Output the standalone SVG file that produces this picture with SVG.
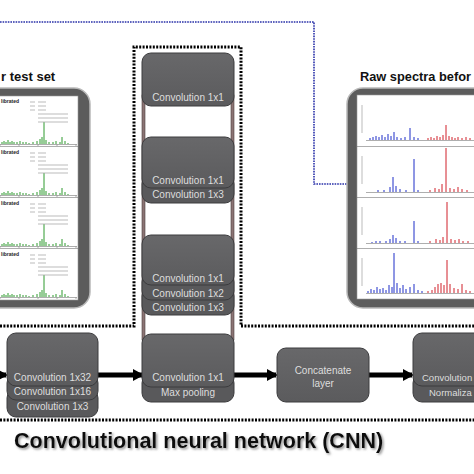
<svg xmlns="http://www.w3.org/2000/svg" width="474" height="474" viewBox="0 0 474 474">
<defs>
<style>
.box{fill:url(#gb);stroke:#3c3c3e;stroke-width:1}
.layer{fill:#59595b;stroke:#3c3c3e;stroke-width:1}
.lbl{fill:#dedede;font-family:"Liberation Sans",Arial,sans-serif;font-size:10px;text-anchor:middle}
.title{fill:#111;font-family:"Liberation Sans",Arial,sans-serif;font-weight:bold}
.frame{fill:#5c5c5c;stroke:#b8b8b8;stroke-width:1.5}
.plot{fill:#fff;stroke:#9a9a9a;stroke-width:0.6}
.axis{stroke:#777;stroke-width:0.6;fill:none}
.leg{stroke:#aaa;stroke-width:0.8}
.grn{stroke:#2e9a2e;stroke-width:1;fill:none}
.blu{stroke:#1f2fc8;stroke-width:1;fill:none}
.red{stroke:#d0202a;stroke-width:1;fill:none}
.tiny{font-family:"Liberation Sans",Arial,sans-serif;font-size:5px;font-weight:bold;fill:#222}
.rail{fill:#8b7474;stroke:#4b3c3c;stroke-width:0.6}
.dots{fill:none;stroke:#000;stroke-width:3;stroke-dasharray:2 1.4}
.blue-dots{fill:none;stroke:#2830a8;stroke-width:1.6;stroke-dasharray:1.6 1}
.arrow{stroke:#000;stroke-width:5;fill:none;marker-end:url(#ah)}
</style>
<linearGradient id="gb" x1="0" y1="0" x2="0" y2="1">
<stop offset="0" stop-color="#68686a"/>
<stop offset="1" stop-color="#5b5b5d"/>
</linearGradient>
<marker id="ah" markerWidth="12" markerHeight="14" refX="9" refY="7" orient="auto" markerUnits="userSpaceOnUse">
<path d="M0,1 L11,7 L0,13 z" fill="#000"/>
</marker>
<filter id="sh" x="-5%" y="-20%" width="110%" height="150%">
<feDropShadow dx="1.5" dy="1.5" stdDeviation="0.8" flood-color="#777" flood-opacity="0.8"/>
</filter>
<g id="gpeaks">
<path class="grn" d="M2,47v-2M4,47v-3M6,47v-2M8,47v-4M10,47v-2M12,47v-3M14,47v-2M17,47v-2M20,47v-3M23,47v-2M26,47v-2M29,47v-1M33,47v-2M37,47v-3M40,47v-5M42,47v-7M44,47v-22M46,47v-4M49,47v-2M53,47v-2M56,47v-3M60,47v-2M62,47v-7M65,47v-3M68,47v-1"/>
<path class="axis" d="M0,47.5H77M0,47.5v1.5M19,47.5v1.5M38,47.5v1.5M57,47.5v1.5M76,47.5v1.5"/>
<path class="leg" d="M30,5h5M30,9h5M30,13h5M38,5h8M38,9h8M38,13h8M38,17h30M38,21h30M38,25h30"/>
</g>
</defs>

<g id="blue-link">
<path class="blue-dots" d="M0,22H314V184H349"/>
</g>

<g id="left-panel">
<rect class="frame" x="-20" y="88" width="110" height="220" rx="16"/>
<rect class="plot" x="-5" y="96" width="83" height="204"/>
<g transform="translate(0,97)"><text class="tiny" x="1" y="6">librated</text><use href="#gpeaks"/></g>
<path class="axis" d="M0,146.5H78"/>
<g transform="translate(0,148)"><text class="tiny" x="1" y="6">librated</text><use href="#gpeaks"/></g>
<path class="axis" d="M0,197.5H78"/>
<g transform="translate(0,199)"><text class="tiny" x="1" y="6">librated</text><use href="#gpeaks"/></g>
<path class="axis" d="M0,248.5H78"/>
<g transform="translate(0,250)"><text class="tiny" x="1" y="6">librated</text><use href="#gpeaks"/></g>
<text class="title" x="1" y="81" font-size="13">r test set</text>
</g>

<g id="right-panel">
<rect class="frame" x="347" y="88" width="150" height="220" rx="16"/>
<rect class="plot" x="357" y="95" width="130" height="204"/>
<path class="axis" d="M357,146.5H474M357,197.5H474M357,248.5H474"/>
<path class="axis" d="M366,140.5H474M366,192.5H474M366,243.5H474M366,293.5H474"/>
<path class="leg" d="M362,105v28M362,156v28M362,207v28M362,258v28"/>
<path class="blu" d="M370,140v-2M373,140v-3M376,140v-4M379,140v-3M382,140v-5M385,140v-3M388,140v-6M391,140v-4M394,140v-8M397,140v-3M401,140v-2M405,140v-3M410,140v-12M414,140v-3M418,140v-2"/>
<path class="red" d="M428,140v-2M431,140v-3M434,140v-2M437,140v-4M440,140v-3M443,140v-5M446,140v-15M449,140v-4M452,140v-3M455,140v-2M458,140v-3M462,140v-2M466,140v-3M470,140v-2"/>
<path class="blu" d="M378,192v-2M384,192v-2M390,192v-5M393,192v-15M396,192v-6M400,192v-3M406,192v-2M414,192v-33M418,192v-2"/>
<path class="red" d="M430,192v-2M435,192v-4M439,192v-3M442,192v-8M446,192v-44M450,192v-4M454,192v-3M458,192v-5M462,192v-3M467,192v-2"/>
<path class="blu" d="M372,243v-1M376,243v-2M380,243v-2M386,243v-2M390,243v-4M393,243v-8M396,243v-5M400,243v-2M405,243v-2M414,243v-22M418,243v-2"/>
<path class="red" d="M430,243v-2M436,243v-4M440,243v-3M443,243v-6M447,243v-41M451,243v-4M455,243v-3M459,243v-4M463,243v-2M468,243v-2"/>
<path class="blu" d="M368,293v-2M371,293v-4M374,293v-3M377,293v-6M380,293v-4M383,293v-5M386,293v-3M389,293v-8M392,293v-6M394,293v-40M397,293v-10M400,293v-5M403,293v-8M406,293v-4M410,293v-6M414,293v-9M418,293v-3M422,293v-2"/>
<path class="red" d="M428,293v-2M432,293v-3M435,293v-6M438,293v-9M441,293v-10M444,293v-8M447,293v-33M450,293v-9M454,293v-5M458,293v-4M462,293v-9M466,293v-3M470,293v-2"/>
<text class="title" x="360" y="81" font-size="12.8">Raw spectra befor</text>
</g>

<g id="frames">
<path class="dots" d="M0,326H134V47H241V326H474"/>
<path class="dots" d="M0,420H474"/>
</g>

<g id="rails">
<rect class="rail" x="142" y="95" width="3" height="245"/>
<rect class="rail" x="231" y="95" width="3" height="245"/>
</g>

<g id="connectors">
<path class="arrow" d="M-20,375H6"/>
<path class="arrow" d="M98,375H142"/>
<path class="arrow" d="M234,375H276"/>
<path class="arrow" d="M369,375H412"/>
</g>

<g id="node-conv1">
<rect class="box" x="142" y="53" width="92" height="53" rx="9"/>
<text class="lbl" x="188" y="101">Convolution 1x1</text>
</g>

<g id="node-conv2">
<rect class="layer" x="142" y="175" width="92" height="28" rx="9"/>
<rect class="box" x="142" y="137" width="92" height="51" rx="9"/>
<text class="lbl" x="188" y="184">Convolution 1x1</text>
<text class="lbl" x="188" y="198">Convolution 1x3</text>
</g>

<g id="node-conv3">
<rect class="layer" x="142" y="287" width="92" height="28" rx="9"/>
<rect class="layer" x="142" y="273" width="92" height="27" rx="9"/>
<rect class="box" x="142" y="235" width="92" height="50" rx="9"/>
<text class="lbl" x="188" y="282">Convolution 1x1</text>
<text class="lbl" x="188" y="297">Convolution 1x2</text>
<text class="lbl" x="188" y="311">Convolution 1x3</text>
</g>

<g id="node-input">
<rect class="layer" x="7" y="389" width="91" height="28" rx="9"/>
<rect class="layer" x="7" y="374" width="91" height="26" rx="9"/>
<rect class="box" x="7" y="333" width="91" height="53" rx="9"/>
<text class="lbl" x="52.5" y="381">Convolution 1x32</text>
<text class="lbl" x="52.5" y="395">Convolution 1x16</text>
<text class="lbl" x="52.5" y="410">Convolution 1x3</text>
</g>

<g id="node-pool">
<rect class="layer" x="142" y="374" width="92" height="28" rx="9"/>
<rect class="box" x="142" y="334" width="92" height="53" rx="9"/>
<text class="lbl" x="188" y="381">Convolution 1x1</text>
<text class="lbl" x="188" y="396">Max pooling</text>
</g>

<g id="node-concat">
<rect class="box" x="277" y="348" width="92" height="54" rx="9"/>
<text class="lbl" x="323" y="374">Concatenate</text>
<text class="lbl" x="323" y="387">layer</text>
</g>

<g id="node-norm">
<rect class="layer" x="413" y="374" width="92" height="28" rx="9"/>
<rect class="box" x="413" y="333" width="92" height="53" rx="9"/>
<text class="lbl" x="422" y="381" style="text-anchor:start;font-size:9.5px">Convolution</text>
<text class="lbl" x="429" y="396" style="text-anchor:start;font-size:9.5px">Normaliza</text>
</g>

<g id="caption">
<text class="title" x="14" y="448" font-size="21.5" filter="url(#sh)">Convolutional neural network (CNN)</text>
</g>
</svg>
